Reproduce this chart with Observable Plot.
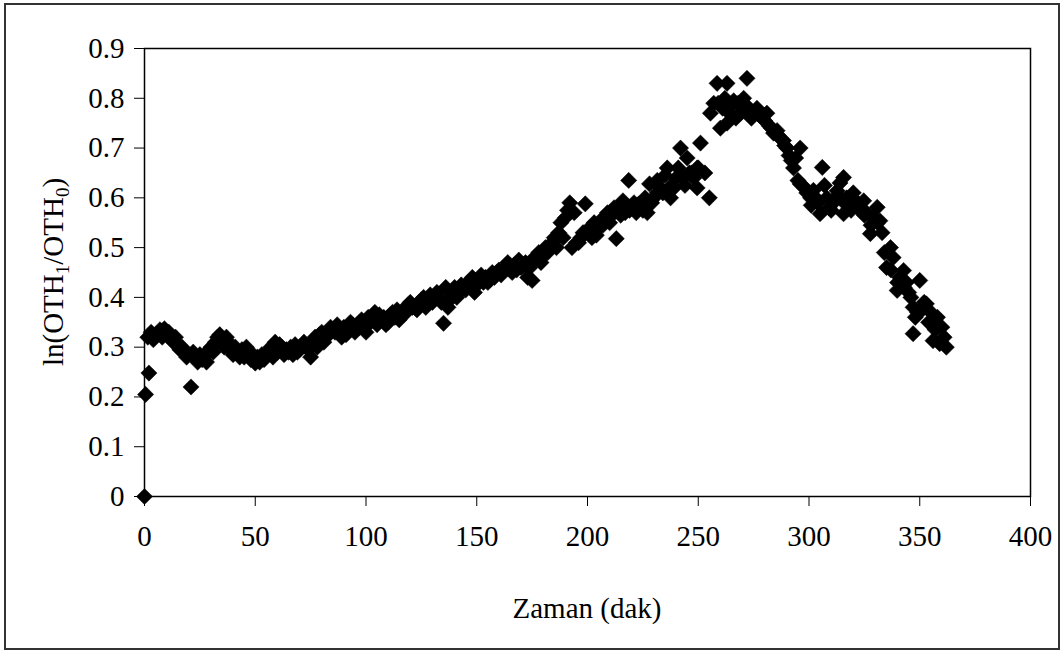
<!DOCTYPE html>
<html>
<head>
<meta charset="utf-8">
<script src="https://cdn.jsdelivr.net/npm/d3@7"></script>
<script src="https://cdn.jsdelivr.net/npm/@observablehq/plot@0.6"></script>
<style>
  html, body { margin: 0; padding: 0; background: #fff; }
  #wrap { position: relative; width: 1064px; height: 653px; }
  #border { position: absolute; left: 4px; top: 3px; width: 1052px; height: 643px; border: 2px solid #333; pointer-events: none; }
  #chart svg text { font-family: 'Liberation Serif', 'Times New Roman', serif; }
</style>
</head>
<body>
<div id="wrap"><div id="chart"></div><div id="border"></div></div>
<script>
// Time (min)
const times = [
  0, 0.5, 2, 1.5, 3, 5, 7, 9, 10, 12, 13, 15, 16, 18, 19, 21, 22, 23, 24, 26,
  27, 29, 30, 32, 34, 35, 36, 38, 39, 41, 42, 44, 45, 47, 48, 50, 51, 53, 54, 56,
  57, 59, 60, 62, 63, 65, 66, 68, 69, 71, 72, 74, 75, 77, 78, 80, 81, 83, 84, 86,
  87, 89, 90, 92, 93, 95, 96, 98, 99, 101, 102, 104, 105, 107, 108, 110, 111, 113, 114, 116,
  117, 119, 120, 122, 123, 125, 126, 128, 129, 131, 132, 134, 135, 136, 137, 139, 140, 142, 143, 145,
  146, 148, 149, 151, 152, 154, 155, 157, 158, 160, 161, 163, 164, 166, 167, 169, 170, 172, 173, 175,
  176, 178, 179, 181, 182, 184, 185, 187, 188, 189, 190, 191, 192, 194, 193, 195, 197, 199, 200, 202,
  203, 205, 206, 208, 209, 211, 213, 214, 216, 217, 218.6, 220, 222, 223, 225, 227, 228, 229, 231.5, 231.5,
  233, 236, 237.5, 238, 240, 242, 243, 245, 247, 249.5, 249.5, 251, 253, 255, 255.5, 257, 258.5, 260, 261, 262,
  263, 263, 265, 266, 267, 269, 270.5, 272, 273, 275, 276.5, 278, 280, 281, 283, 285.6, 287, 288.5, 290, 292,
  294, 296, 296, 298, 300.7, 302, 304, 305, 306, 308, 309, 311, 312.7, 314, 315.6, 315.6, 317, 318.7, 320, 322,
  324.7, 326, 327.7, 329, 330.8, 332, 333, 335, 336.8, 338, 339.8, 341, 342.7, 344, 345, 347, 347, 349, 350, 352,
  353, 355, 356, 358, 359, 360, 362,
  4, 8, 11, 14, 17, 25, 28, 31, 33, 37, 40, 43, 46, 49, 52, 55, 58, 61, 64, 67,
  70, 73, 76, 79, 82, 85, 88, 91, 94, 97, 100, 103, 106, 109, 112, 115, 118, 121, 124, 127,
  130, 133, 138, 141, 144, 147, 150, 153, 156, 159, 162, 165, 168, 171, 174, 177, 180, 183, 186, 196,
  198, 201, 204, 207, 210, 212, 215, 219, 221, 224, 226, 230, 234, 235, 239, 241, 244, 246, 248, 250,
  259, 264, 268, 271, 274, 277, 279, 282, 284, 286, 289, 291, 293, 295, 297, 299, 301, 303, 307, 310,
  313, 316, 319, 321, 323, 325, 328, 331, 334, 337, 340, 343, 346, 348, 351, 354, 357, 361
];
// ln(OTH1/OTH0)
const values = [
  0, 0.205, 0.248, 0.32, 0.33, 0.325, 0.335, 0.337, 0.325, 0.32, 0.31, 0.305, 0.295, 0.29, 0.28, 0.22, 0.29, 0.28, 0.27, 0.275,
  0.285, 0.29, 0.30, 0.31, 0.325, 0.315, 0.30, 0.31, 0.295, 0.30, 0.29, 0.295, 0.28, 0.29, 0.275, 0.268, 0.28, 0.285, 0.275, 0.29,
  0.30, 0.31, 0.29, 0.30, 0.285, 0.29, 0.30, 0.305, 0.29, 0.30, 0.31, 0.295, 0.28, 0.32, 0.30, 0.33, 0.31, 0.325, 0.34, 0.33,
  0.345, 0.32, 0.34, 0.335, 0.35, 0.33, 0.345, 0.355, 0.34, 0.36, 0.35, 0.37, 0.345, 0.355, 0.36, 0.35, 0.365, 0.36, 0.375, 0.37,
  0.365, 0.385, 0.39, 0.38, 0.375, 0.395, 0.40, 0.39, 0.405, 0.40, 0.41, 0.39, 0.348, 0.42, 0.38, 0.40, 0.42, 0.41, 0.425, 0.415,
  0.43, 0.44, 0.41, 0.43, 0.445, 0.44, 0.43, 0.45, 0.44, 0.455, 0.445, 0.46, 0.47, 0.45, 0.465, 0.475, 0.46, 0.47, 0.44, 0.434,
  0.48, 0.49, 0.47, 0.50, 0.49, 0.51, 0.52, 0.53, 0.55, 0.52, 0.56, 0.575, 0.59, 0.57, 0.50, 0.51, 0.52, 0.588, 0.53, 0.52,
  0.55, 0.54, 0.555, 0.56, 0.57, 0.565, 0.518, 0.58, 0.594, 0.57, 0.635, 0.58, 0.57, 0.587, 0.575, 0.57, 0.628, 0.59, 0.635, 0.61,
  0.62, 0.66, 0.60, 0.625, 0.64, 0.70, 0.64, 0.68, 0.65, 0.66, 0.62, 0.71, 0.65, 0.60, 0.77, 0.79, 0.83, 0.74, 0.78, 0.80,
  0.83, 0.75, 0.785, 0.795, 0.76, 0.77, 0.80, 0.84, 0.78, 0.77, 0.78, 0.765, 0.755, 0.77, 0.74, 0.735, 0.72, 0.715, 0.70, 0.675,
  0.68, 0.70, 0.628, 0.62, 0.60, 0.615, 0.59, 0.568, 0.661, 0.60, 0.58, 0.59, 0.614, 0.63, 0.641, 0.568, 0.60, 0.581, 0.61, 0.59,
  0.594, 0.57, 0.528, 0.56, 0.581, 0.554, 0.53, 0.46, 0.50, 0.48, 0.414, 0.44, 0.454, 0.43, 0.41, 0.38, 0.327, 0.37, 0.434, 0.39,
  0.387, 0.37, 0.313, 0.36, 0.307, 0.34, 0.30,
  0.315, 0.32, 0.33, 0.32, 0.30, 0.285, 0.27, 0.29, 0.32, 0.32, 0.285, 0.28, 0.30, 0.285, 0.27, 0.285, 0.28, 0.305, 0.295, 0.285,
  0.295, 0.30, 0.31, 0.325, 0.32, 0.335, 0.33, 0.325, 0.345, 0.34, 0.33, 0.355, 0.365, 0.345, 0.37, 0.355, 0.37, 0.38, 0.39, 0.38,
  0.39, 0.40, 0.41, 0.40, 0.42, 0.425, 0.425, 0.43, 0.435, 0.45, 0.455, 0.46, 0.455, 0.465, 0.46, 0.48, 0.485, 0.50, 0.50, 0.51,
  0.53, 0.54, 0.525, 0.545, 0.55, 0.58, 0.565, 0.575, 0.59, 0.58, 0.60, 0.60, 0.61, 0.645, 0.62, 0.66, 0.625, 0.65, 0.64, 0.66,
  0.79, 0.77, 0.79, 0.775, 0.76, 0.77, 0.76, 0.745, 0.73, 0.725, 0.705, 0.685, 0.66, 0.635, 0.625, 0.61, 0.585, 0.60, 0.625, 0.575,
  0.605, 0.59, 0.575, 0.585, 0.575, 0.565, 0.545, 0.55, 0.49, 0.455, 0.43, 0.42, 0.40, 0.36, 0.375, 0.35, 0.335, 0.32
];
const xTicks = [0, 50, 100, 150, 200, 250, 300, 350, 400];
const yTicks = [0, 0.1, 0.2, 0.3, 0.4, 0.5, 0.6, 0.7, 0.8, 0.9];
const xLabel = "Zaman (dak)";

const data = times.map((t, i) => ({t, v: values[i]}));
const font = "'Liberation Serif', 'Times New Roman', serif";

const chart = Plot.plot({
  width: 1064,
  height: 653,
  marginLeft: 144,
  marginRight: 34,
  marginTop: 48,
  marginBottom: 157,
  style: {fontFamily: font, fontSize: "29px", background: "white", color: "black", overflow: "visible"},
  x: {domain: [0, 400]},
  y: {domain: [0, 0.9]},
  marks: [
    Plot.frame({stroke: "black", strokeWidth: 1.5}),
    Plot.axisX({ticks: xTicks, tickSize: 10, tickPadding: 19, tickFormat: d => String(d), label: null, fontSize: 29}),
    Plot.axisY({ticks: yTicks, tickSize: 10, tickPadding: 10, tickFormat: d => d === 0 ? "0" : d.toFixed(1), label: null, fontSize: 29}),
    Plot.dot(data, {x: "t", y: "v", symbol: "diamond2", r: 7.3, fill: "black", stroke: "black", strokeWidth: 0.5})
  ]
});
document.getElementById("chart").appendChild(chart);

// Axis titles
const svg = d3.select(chart);
const cx = (144 + 1064 - 34) / 2;
svg.append("text")
  .attr("x", cx).attr("y", 618)
  .attr("text-anchor", "middle")
  .attr("font-family", font).attr("font-size", 29).attr("fill", "black")
  .text(xLabel);

const cy = (48 + 653 - 157) / 2;
const yl = svg.append("text")
  .attr("transform", `translate(63,${cy}) rotate(-90)`)
  .attr("text-anchor", "middle")
  .attr("font-family", font).attr("font-size", 29).attr("fill", "black");
yl.append("tspan").text("ln(OTH");
yl.append("tspan").attr("font-size", 19).attr("dy", 6).text("1");
yl.append("tspan").attr("dy", -6).text("/OTH");
yl.append("tspan").attr("font-size", 19).attr("dy", 6).text("0");
yl.append("tspan").attr("dy", -6).text(")");
</script>
</body>
</html>
